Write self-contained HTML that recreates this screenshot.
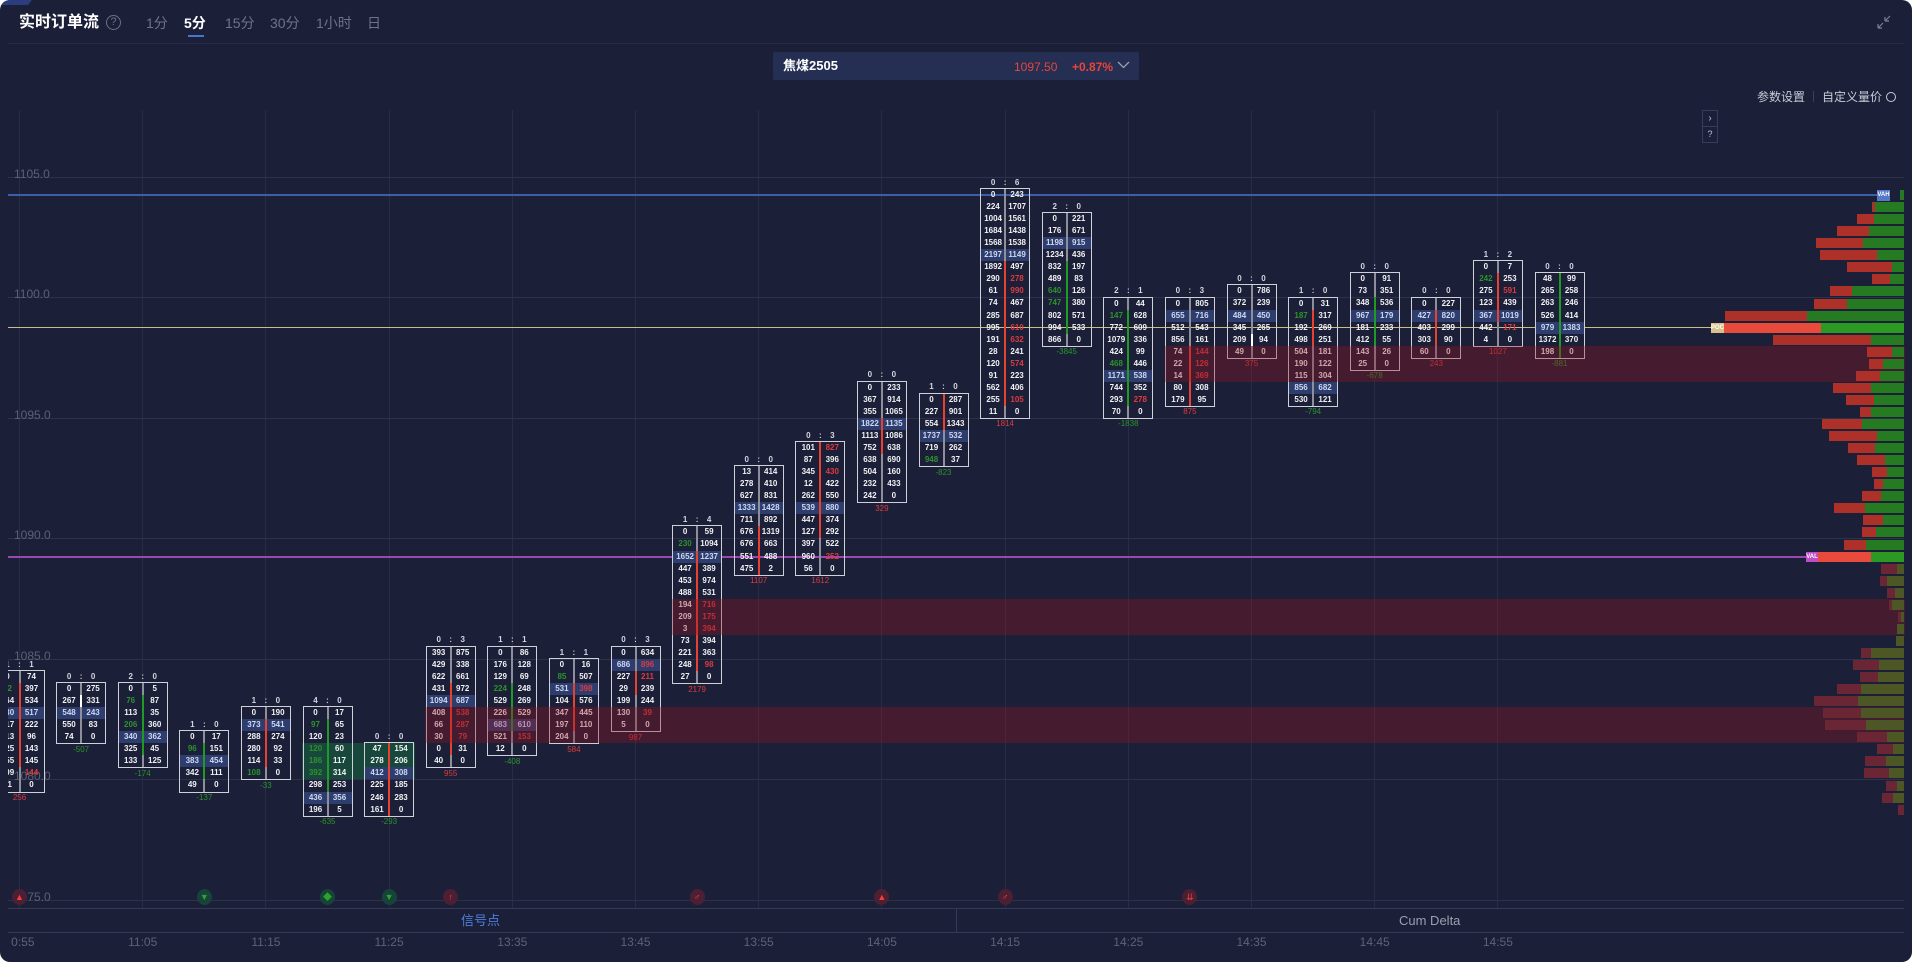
<!DOCTYPE html>
<html><head><meta charset="utf-8">
<style>
*{margin:0;padding:0;box-sizing:border-box}
html,body{width:1912px;height:962px;background:#fff;overflow:hidden}
#pn{position:absolute;left:0;top:0;width:1912px;height:962px;background:#1b1f38;border-radius:10px;overflow:hidden;font-family:"Liberation Sans","Noto Sans CJK SC",sans-serif}
.a{position:absolute}
#cl{position:absolute;left:0;top:0;width:1912px;height:962px;clip-path:inset(108px 0 54px 8px)}
.vg{position:absolute;top:110px;height:798px;width:1px;background:#282d46}
.hg{position:absolute;left:8px;width:1896px;height:1px;background:#2d324b}
.pl{position:absolute;left:14px;font-size:12px;color:#5b6175;line-height:12px}
.bx{position:absolute;width:48px;outline:1.5px solid #cfd0d8;color:#f2f2f4;font-weight:bold;font-size:8px}
.r{position:relative;height:12.05px;display:flex}
.r p,.hd p{width:50%;text-align:center;line-height:12px}
.r::after{content:"";position:absolute;left:23px;top:0;width:2px;height:100%;background:#8e8f9a}
.d::after{background:#e8412f}
.g::after{background:#1f9a24}
.w::after{background:#fff}
.h{background:#2d3d6d;color:#cfd8f2}
.R{color:#dd3b3f}
.G{color:#2c932c}
.hd{position:absolute;top:-12.5px;left:0;width:48px;height:12px;display:flex;color:#d6d6de}
.hd::after{content:":";position:absolute;left:22px;width:4px;text-align:center;line-height:12px}
.dl{position:absolute;left:0;width:48px;bottom:-12.5px;text-align:center;line-height:12px;font-weight:normal}
.band{position:absolute;background:rgba(150,20,35,0.35)}
.pb{position:absolute;height:10px}
.pr{background:#ad3129}.pg{background:#267a22}
.br{background:#e84a3c}.bgg{background:#2c9a22}
.mr{background:#6a2634}.mg{background:#4d5726}
.tl{position:absolute;top:936px;font-size:12px;color:#5d6377;width:60px;margin-left:-30px;text-align:center;line-height:12px}
.ic{position:absolute;top:889px;width:15px;height:16px;border-radius:50%;margin-left:-7.5px;font-size:9px;line-height:16px;text-align:center}
.icr{background:#4c1f33;color:#f0403a}
.icg{background:#17433a;color:#2aa52a}
.tab{position:absolute;top:14px;font-size:14px;color:#6d7488;line-height:18px}
</style></head><body>
<div id="pn">
<svg class="a" style="left:0;top:0" width="34" height="6"><polygon points="0,0 32,0 28,5 0,5" fill="#2b3d7d"/></svg>
<div class="a" style="left:19px;top:13px;font-size:16px;font-weight:bold;color:#fff;line-height:20px">实时订单流</div>
<div class="a" style="left:106px;top:15px;width:15px;height:15px;border:1px solid #6b7185;border-radius:50%;color:#6b7185;font-size:11px;line-height:13px;text-align:center">?</div>
<div class="tab" style="left:146px">1分</div>
<div class="tab" style="left:184px;color:#fff;font-weight:bold">5分</div>
<div class="a" style="left:188px;top:35px;width:16px;height:2px;background:#4a74d4"></div>
<div class="tab" style="left:225px">15分</div>
<div class="tab" style="left:270px">30分</div>
<div class="tab" style="left:316px">1小时</div>
<div class="tab" style="left:367px">日</div>
<svg class="a" style="left:1876px;top:14px" width="16" height="16"><path d="M2 14 L7 9 M2 14 L2 10 M2 14 L6 14 M14 2 L9 7 M9 7 L9 3 M9 7 L13 7" stroke="#7a8094" stroke-width="1.2" fill="none"/></svg>
<div class="a" style="left:8px;top:43px;width:1896px;height:1px;background:#262b44"></div>
<div class="a" style="left:773px;top:52px;width:366px;height:28px;background:#252e53;border-radius:2px"></div>
<div class="a" style="left:783px;top:57px;font-size:13px;font-weight:bold;color:#fff;line-height:18px">焦煤2505</div>
<div class="a" style="left:1014px;top:58px;font-size:12px;color:#e8453c;line-height:18px">1097.50</div>
<div class="a" style="left:1072px;top:58px;font-size:12px;font-weight:bold;color:#e8453c;line-height:18px">+0.87%</div>
<svg class="a" style="left:1117px;top:60px" width="13" height="10"><path d="M1 2 L6.5 7.5 L12 2" stroke="#9aa0b4" stroke-width="1.3" fill="none"/></svg>
<div class="a" style="left:1757px;top:89px;font-size:12px;color:#c8ccd8;line-height:16px">参数设置</div>
<div class="a" style="left:1813px;top:91px;width:1px;height:11px;background:#3a4058"></div>
<div class="a" style="left:1822px;top:89px;font-size:12px;color:#c8ccd8;line-height:16px">自定义量价</div>
<div class="a" style="left:1886px;top:92px;width:10px;height:10px;border:1.2px solid #c8ccd8;border-radius:50%"></div>
<div class="a" style="left:1702px;top:110px;width:16px;height:17px;border:1px solid #363c5a;color:#c0c4d0;font-size:10px;line-height:15px;text-align:center">›</div>
<div class="a" style="left:1702px;top:126px;width:16px;height:17px;border:1px solid #363c5a;color:#c0c4d0;font-size:9px;line-height:15px;text-align:center">?</div>

<div id="cl">
<div class="vg" style="left:19px"></div><div class="vg" style="left:142px"></div><div class="vg" style="left:265px"></div><div class="vg" style="left:389px"></div><div class="vg" style="left:512px"></div><div class="vg" style="left:635px"></div><div class="vg" style="left:758px"></div><div class="vg" style="left:881px"></div><div class="vg" style="left:1005px"></div><div class="vg" style="left:1128px"></div><div class="vg" style="left:1251px"></div><div class="vg" style="left:1374px"></div><div class="vg" style="left:1497px"></div>
<div class="hg" style="top:177px"></div><div class="hg" style="top:297px"></div><div class="hg" style="top:418px"></div><div class="hg" style="top:538px"></div><div class="hg" style="top:659px"></div><div class="hg" style="top:779px"></div><div class="hg" style="top:900px"></div>
<div class="pl" style="top:168px">1105.0</div><div class="pl" style="top:288px">1100.0</div><div class="pl" style="top:409px">1095.0</div><div class="pl" style="top:529px">1090.0</div><div class="pl" style="top:650px">1085.0</div><div class="pl" style="top:770px">1080.0</div><div class="pl" style="top:891px">1075.0</div>

<div class="a" style="left:8px;top:194px;width:1869px;height:2px;background:#3d5ea8"></div>
<div class="a" style="left:8px;top:327px;width:1703px;height:1px;background:#cbbd8a"></div>
<div class="a" style="left:8px;top:556px;width:1798px;height:2px;background:#9a48b0"></div>

<div class="a" style="left:302px;top:743.35px;width:112.6px;height:36.15px;background:rgba(20,150,70,0.35)"></div>

<div class="bx" style="left:-4.5px;top:671.05px"><div class="hd"><p>1</p><p>1</p></div>
<div class="r y"><p>0</p><p>74</p></div><div class="r d"><p class="G">82</p><p>397</p></div><div class="r d"><p>264</p><p>534</p></div><div class="r d h"><p>630</p><p>517</p></div><div class="r d"><p>317</p><p>222</p></div><div class="r d"><p>213</p><p>96</p></div><div class="r d"><p>225</p><p>143</p></div><div class="r d"><p>355</p><p>145</p></div><div class="r y"><p>199</p><p class="R">144</p></div><div class="r y"><p>31</p><p>0</p></div>
<div class="dl R">256</div></div>

<div class="bx" style="left:57.1px;top:683.1px"><div class="hd"><p>0</p><p>0</p></div>
<div class="r y"><p>0</p><p>275</p></div><div class="r w"><p>267</p><p>331</p></div><div class="r y h"><p>548</p><p>243</p></div><div class="r y"><p>550</p><p>83</p></div><div class="r y"><p>74</p><p>0</p></div>
<div class="dl G">-507</div></div>

<div class="bx" style="left:118.7px;top:683.1px"><div class="hd"><p>2</p><p>0</p></div>
<div class="r y"><p>0</p><p>5</p></div><div class="r g"><p class="G">76</p><p>87</p></div><div class="r g"><p>113</p><p>35</p></div><div class="r g"><p class="G">206</p><p>360</p></div><div class="r g h"><p>340</p><p>362</p></div><div class="r g"><p>325</p><p>45</p></div><div class="r y"><p>133</p><p>125</p></div>
<div class="dl G">-174</div></div>

<div class="bx" style="left:180.3px;top:731.3px"><div class="hd"><p>1</p><p>0</p></div>
<div class="r y"><p>0</p><p>17</p></div><div class="r g"><p class="G">96</p><p>151</p></div><div class="r g h"><p>383</p><p>454</p></div><div class="r g"><p>342</p><p>111</p></div><div class="r y"><p>49</p><p>0</p></div>
<div class="dl G">-137</div></div>

<div class="bx" style="left:241.9px;top:707.2px"><div class="hd"><p>1</p><p>0</p></div>
<div class="r y"><p>0</p><p>190</p></div><div class="r d h"><p>373</p><p>541</p></div><div class="r d"><p>288</p><p>274</p></div><div class="r d"><p>280</p><p>92</p></div><div class="r d"><p>114</p><p>33</p></div><div class="r y"><p class="G">108</p><p>0</p></div>
<div class="dl G">-33</div></div>

<div class="bx" style="left:303.5px;top:707.2px"><div class="hd"><p>4</p><p>0</p></div>
<div class="r y"><p>0</p><p>17</p></div><div class="r g"><p class="G">97</p><p>65</p></div><div class="r g"><p>120</p><p>23</p></div><div class="r g"><p class="G">120</p><p>60</p></div><div class="r g"><p class="G">186</p><p>117</p></div><div class="r g"><p class="G">392</p><p>314</p></div><div class="r g"><p>298</p><p>253</p></div><div class="r y h"><p>436</p><p>356</p></div><div class="r y"><p>196</p><p>5</p></div>
<div class="dl G">-635</div></div>

<div class="bx" style="left:365.1px;top:743.35px"><div class="hd"><p>0</p><p>0</p></div>
<div class="r d"><p>47</p><p>154</p></div><div class="r d"><p>278</p><p>206</p></div><div class="r d h"><p>412</p><p>308</p></div><div class="r d"><p>225</p><p>185</p></div><div class="r d"><p>246</p><p>283</p></div><div class="r d"><p>161</p><p>0</p></div>
<div class="dl G">-293</div></div>

<div class="bx" style="left:426.7px;top:646.95px"><div class="hd"><p>0</p><p>3</p></div>
<div class="r y"><p>393</p><p>875</p></div><div class="r y"><p>429</p><p>338</p></div><div class="r y"><p>622</p><p>661</p></div><div class="r d"><p>431</p><p>972</p></div><div class="r d h"><p>1094</p><p>687</p></div><div class="r d"><p>408</p><p class="R">538</p></div><div class="r d"><p>66</p><p class="R">287</p></div><div class="r d"><p>30</p><p class="R">79</p></div><div class="r d"><p>0</p><p>31</p></div><div class="r y"><p>40</p><p>0</p></div>
<div class="dl R">955</div></div>

<div class="bx" style="left:488.3px;top:646.95px"><div class="hd"><p>1</p><p>1</p></div>
<div class="r y"><p>0</p><p>86</p></div><div class="r y"><p>176</p><p>128</p></div><div class="r y"><p>129</p><p>69</p></div><div class="r g"><p class="G">224</p><p>248</p></div><div class="r g"><p>529</p><p>269</p></div><div class="r g"><p>226</p><p>529</p></div><div class="r g h"><p>683</p><p>610</p></div><div class="r y"><p>521</p><p class="R">153</p></div><div class="r y"><p>12</p><p>0</p></div>
<div class="dl G">-408</div></div>

<div class="bx" style="left:549.9px;top:659px"><div class="hd"><p>1</p><p>1</p></div>
<div class="r y"><p>0</p><p>16</p></div><div class="r y"><p class="G">85</p><p>507</p></div><div class="r d h"><p>531</p><p class="R">398</p></div><div class="r d"><p>104</p><p>576</p></div><div class="r d"><p>347</p><p>445</p></div><div class="r d"><p>197</p><p>110</p></div><div class="r y"><p>204</p><p>0</p></div>
<div class="dl R">584</div></div>

<div class="bx" style="left:611.5px;top:646.95px"><div class="hd"><p>0</p><p>3</p></div>
<div class="r y"><p>0</p><p>634</p></div><div class="r y h"><p>686</p><p class="R">896</p></div><div class="r d"><p>227</p><p class="R">211</p></div><div class="r d"><p>29</p><p>239</p></div><div class="r y"><p>199</p><p>244</p></div><div class="r y"><p>130</p><p class="R">39</p></div><div class="r y"><p>5</p><p>0</p></div>
<div class="dl R">987</div></div>

<div class="bx" style="left:673.1px;top:526.45px"><div class="hd"><p>1</p><p>4</p></div>
<div class="r y"><p>0</p><p>59</p></div><div class="r y"><p class="G">230</p><p>1094</p></div><div class="r d h"><p>1652</p><p>1237</p></div><div class="r d"><p>447</p><p>389</p></div><div class="r d"><p>453</p><p>974</p></div><div class="r d"><p>488</p><p>531</p></div><div class="r d"><p>194</p><p class="R">716</p></div><div class="r d"><p>209</p><p class="R">175</p></div><div class="r d"><p>3</p><p class="R">394</p></div><div class="r d"><p>73</p><p>394</p></div><div class="r d"><p>221</p><p>363</p></div><div class="r d"><p>248</p><p class="R">98</p></div><div class="r y"><p>27</p><p>0</p></div>
<div class="dl R">2179</div></div>

<div class="bx" style="left:734.7px;top:466.2px"><div class="hd"><p>0</p><p>0</p></div>
<div class="r y"><p>13</p><p>414</p></div><div class="r y"><p>278</p><p>410</p></div><div class="r y"><p>627</p><p>831</p></div><div class="r y h"><p>1333</p><p>1428</p></div><div class="r y"><p>711</p><p>892</p></div><div class="r d"><p>676</p><p>1319</p></div><div class="r d"><p>676</p><p>663</p></div><div class="r d"><p>551</p><p>488</p></div><div class="r d"><p>475</p><p>2</p></div>
<div class="dl R">1107</div></div>

<div class="bx" style="left:796.3px;top:442.1px"><div class="hd"><p>0</p><p>3</p></div>
<div class="r d"><p>101</p><p class="R">827</p></div><div class="r d"><p>87</p><p>396</p></div><div class="r d"><p>345</p><p class="R">430</p></div><div class="r d"><p>12</p><p>422</p></div><div class="r d"><p>262</p><p>550</p></div><div class="r d h"><p>539</p><p>880</p></div><div class="r d"><p>447</p><p>374</p></div><div class="r d"><p>127</p><p>292</p></div><div class="r y"><p>397</p><p>522</p></div><div class="r y"><p>960</p><p class="R">252</p></div><div class="r y"><p>56</p><p>0</p></div>
<div class="dl R">1612</div></div>

<div class="bx" style="left:857.9px;top:381.85px"><div class="hd"><p>0</p><p>0</p></div>
<div class="r y"><p>0</p><p>233</p></div><div class="r y"><p>367</p><p>914</p></div><div class="r y"><p>355</p><p>1065</p></div><div class="r d h"><p>1822</p><p>1135</p></div><div class="r d"><p>1113</p><p>1086</p></div><div class="r d"><p>752</p><p>638</p></div><div class="r y"><p>638</p><p>690</p></div><div class="r y"><p>504</p><p>160</p></div><div class="r y"><p>232</p><p>433</p></div><div class="r y"><p>242</p><p>0</p></div>
<div class="dl R">329</div></div>

<div class="bx" style="left:919.5px;top:393.9px"><div class="hd"><p>1</p><p>0</p></div>
<div class="r d"><p>0</p><p>287</p></div><div class="r d"><p>227</p><p>901</p></div><div class="r d"><p>554</p><p>1343</p></div><div class="r y h"><p>1737</p><p>532</p></div><div class="r y"><p>719</p><p>262</p></div><div class="r y"><p class="G">948</p><p>37</p></div>
<div class="dl G">-823</div></div>

<div class="bx" style="left:981.1px;top:189.05px"><div class="hd"><p>0</p><p>6</p></div>
<div class="r y"><p>0</p><p>243</p></div><div class="r y"><p>224</p><p>1707</p></div><div class="r y"><p>1004</p><p>1561</p></div><div class="r y"><p>1684</p><p>1438</p></div><div class="r y"><p>1568</p><p>1538</p></div><div class="r y h"><p>2197</p><p>1149</p></div><div class="r d"><p>1892</p><p>497</p></div><div class="r d"><p>290</p><p class="R">278</p></div><div class="r d"><p>61</p><p class="R">990</p></div><div class="r d"><p>74</p><p>467</p></div><div class="r d"><p>285</p><p>687</p></div><div class="r d"><p>995</p><p class="R">610</p></div><div class="r d"><p>191</p><p class="R">632</p></div><div class="r d"><p>28</p><p>241</p></div><div class="r d"><p>120</p><p class="R">574</p></div><div class="r d"><p>91</p><p>223</p></div><div class="r d"><p>562</p><p>406</p></div><div class="r d"><p>255</p><p class="R">105</p></div><div class="r y"><p>11</p><p>0</p></div>
<div class="dl R">1814</div></div>

<div class="bx" style="left:1042.7px;top:213.15px"><div class="hd"><p>2</p><p>0</p></div>
<div class="r y"><p>0</p><p>221</p></div><div class="r y"><p>176</p><p>671</p></div><div class="r y h"><p>1198</p><p>915</p></div><div class="r y"><p>1234</p><p>436</p></div><div class="r g"><p>832</p><p>197</p></div><div class="r g"><p>489</p><p>83</p></div><div class="r g"><p class="G">640</p><p>126</p></div><div class="r g"><p class="G">747</p><p>380</p></div><div class="r g"><p>802</p><p>571</p></div><div class="r g"><p>994</p><p>533</p></div><div class="r y"><p>866</p><p>0</p></div>
<div class="dl G">-3845</div></div>

<div class="bx" style="left:1104.3px;top:297.5px"><div class="hd"><p>2</p><p>1</p></div>
<div class="r y"><p>0</p><p>44</p></div><div class="r g"><p class="G">147</p><p>628</p></div><div class="r g"><p>772</p><p>609</p></div><div class="r g"><p>1079</p><p>336</p></div><div class="r g"><p>424</p><p>99</p></div><div class="r g"><p class="G">468</p><p>446</p></div><div class="r g h"><p>1171</p><p>538</p></div><div class="r g"><p>744</p><p>352</p></div><div class="r g"><p>293</p><p class="R">278</p></div><div class="r y"><p>70</p><p>0</p></div>
<div class="dl G">-1838</div></div>

<div class="bx" style="left:1165.9px;top:297.5px"><div class="hd"><p>0</p><p>3</p></div>
<div class="r y"><p>0</p><p>805</p></div><div class="r y h"><p>655</p><p>716</p></div><div class="r y"><p>512</p><p>543</p></div><div class="r y"><p>856</p><p>161</p></div><div class="r d"><p>74</p><p class="R">144</p></div><div class="r d"><p>22</p><p class="R">126</p></div><div class="r d"><p>14</p><p class="R">369</p></div><div class="r d"><p>80</p><p>308</p></div><div class="r d"><p>179</p><p>95</p></div>
<div class="dl R">875</div></div>

<div class="bx" style="left:1227.5px;top:285.45px"><div class="hd"><p>0</p><p>0</p></div>
<div class="r y"><p>0</p><p>786</p></div><div class="r y"><p>372</p><p>239</p></div><div class="r y h"><p>484</p><p>450</p></div><div class="r y"><p>345</p><p>265</p></div><div class="r w"><p>209</p><p>94</p></div><div class="r y"><p>49</p><p>0</p></div>
<div class="dl R">375</div></div>

<div class="bx" style="left:1289.1px;top:297.5px"><div class="hd"><p>1</p><p>0</p></div>
<div class="r y"><p>0</p><p>31</p></div><div class="r d"><p class="G">187</p><p>317</p></div><div class="r d"><p>192</p><p>269</p></div><div class="r d"><p>498</p><p>251</p></div><div class="r y"><p>504</p><p>181</p></div><div class="r y"><p>190</p><p>122</p></div><div class="r y"><p>115</p><p>304</p></div><div class="r y h"><p>856</p><p>682</p></div><div class="r y"><p>530</p><p>121</p></div>
<div class="dl G">-794</div></div>

<div class="bx" style="left:1350.7px;top:273.4px"><div class="hd"><p>0</p><p>0</p></div>
<div class="r y"><p>0</p><p>91</p></div><div class="r y"><p>73</p><p>351</p></div><div class="r g"><p>348</p><p>536</p></div><div class="r g h"><p>967</p><p>179</p></div><div class="r g"><p>181</p><p>233</p></div><div class="r g"><p>412</p><p>55</p></div><div class="r y"><p>143</p><p>26</p></div><div class="r y"><p>25</p><p>0</p></div>
<div class="dl G">-678</div></div>

<div class="bx" style="left:1412.3px;top:297.5px"><div class="hd"><p>0</p><p>0</p></div>
<div class="r y"><p>0</p><p>227</p></div><div class="r d h"><p>427</p><p>820</p></div><div class="r d"><p>403</p><p>299</p></div><div class="r d"><p>303</p><p>90</p></div><div class="r y"><p>60</p><p>0</p></div>
<div class="dl R">243</div></div>

<div class="bx" style="left:1473.9px;top:261.35px"><div class="hd"><p>1</p><p>2</p></div>
<div class="r y"><p>0</p><p>7</p></div><div class="r d"><p class="G">242</p><p>253</p></div><div class="r d"><p>275</p><p class="R">591</p></div><div class="r d"><p>123</p><p>439</p></div><div class="r d h"><p>367</p><p>1019</p></div><div class="r y"><p>442</p><p class="R">171</p></div><div class="r y"><p>4</p><p>0</p></div>
<div class="dl R">1027</div></div>

<div class="bx" style="left:1535.5px;top:273.4px"><div class="hd"><p>0</p><p>0</p></div>
<div class="r g"><p>48</p><p>99</p></div><div class="r g"><p>265</p><p>258</p></div><div class="r g"><p>263</p><p>246</p></div><div class="r g"><p>526</p><p>414</p></div><div class="r g h"><p>979</p><p>1383</p></div><div class="r g"><p>1372</p><p>370</p></div><div class="r g"><p>198</p><p>0</p></div>
<div class="dl G">-881</div></div>

<div class="band" style="left:1164.5px;top:345.7px;width:740px;height:36.15px"></div>
<div class="band" style="left:671.6px;top:598.75px;width:1233px;height:36.15px"></div>
<div class="band" style="left:425.2px;top:707.2px;width:1479px;height:36.15px"></div>

<div class="pb pg" style="top:190.05px;left:1900px;width:4px"></div>
<div class="pb pr" style="top:202.1px;left:1872px;width:3px"></div><div class="pb pg" style="top:202.1px;left:1875px;width:29px"></div>
<div class="pb pr" style="top:214.15px;left:1857px;width:17px"></div><div class="pb pg" style="top:214.15px;left:1874px;width:30px"></div>
<div class="pb pr" style="top:226.2px;left:1837px;width:32px"></div><div class="pb pg" style="top:226.2px;left:1869px;width:35px"></div>
<div class="pb pr" style="top:238.25px;left:1816px;width:47px"></div><div class="pb pg" style="top:238.25px;left:1863px;width:41px"></div>
<div class="pb pr" style="top:250.3px;left:1820px;width:57px"></div><div class="pb pg" style="top:250.3px;left:1877px;width:27px"></div>
<div class="pb pr" style="top:262.35px;left:1847px;width:45px"></div><div class="pb pg" style="top:262.35px;left:1892px;width:12px"></div>
<div class="pb pr" style="top:274.4px;left:1872px;width:18px"></div><div class="pb pg" style="top:274.4px;left:1890px;width:14px"></div>
<div class="pb pr" style="top:286.45px;left:1830px;width:22px"></div><div class="pb pg" style="top:286.45px;left:1852px;width:52px"></div>
<div class="pb pr" style="top:298.5px;left:1814px;width:33px"></div><div class="pb pg" style="top:298.5px;left:1847px;width:57px"></div>
<div class="pb pr" style="top:310.55px;left:1725px;width:82px"></div><div class="pb pg" style="top:310.55px;left:1807px;width:97px"></div>
<div class="pb br" style="top:322.6px;left:1724px;width:97px"></div><div class="pb bgg" style="top:322.6px;left:1821px;width:83px"></div>
<div class="pb pr" style="top:334.65px;left:1773px;width:98px"></div><div class="pb pg" style="top:334.65px;left:1871px;width:33px"></div>
<div class="pb pr" style="top:346.7px;left:1867px;width:25px"></div><div class="pb pg" style="top:346.7px;left:1892px;width:12px"></div>
<div class="pb pr" style="top:358.75px;left:1869px;width:14px"></div><div class="pb pg" style="top:358.75px;left:1883px;width:21px"></div>
<div class="pb pr" style="top:370.8px;left:1856px;width:24px"></div><div class="pb pg" style="top:370.8px;left:1880px;width:24px"></div>
<div class="pb pr" style="top:382.85px;left:1833px;width:38px"></div><div class="pb pg" style="top:382.85px;left:1871px;width:33px"></div>
<div class="pb pr" style="top:394.9px;left:1846px;width:28px"></div><div class="pb pg" style="top:394.9px;left:1874px;width:30px"></div>
<div class="pb pr" style="top:406.95px;left:1860px;width:11px"></div><div class="pb pg" style="top:406.95px;left:1871px;width:33px"></div>
<div class="pb pr" style="top:419px;left:1822px;width:40px"></div><div class="pb pg" style="top:419px;left:1862px;width:42px"></div>
<div class="pb pr" style="top:431.05px;left:1829px;width:48px"></div><div class="pb pg" style="top:431.05px;left:1877px;width:27px"></div>
<div class="pb pr" style="top:443.1px;left:1848px;width:27px"></div><div class="pb pg" style="top:443.1px;left:1875px;width:29px"></div>
<div class="pb pr" style="top:455.15px;left:1857px;width:28px"></div><div class="pb pg" style="top:455.15px;left:1885px;width:19px"></div>
<div class="pb pr" style="top:467.2px;left:1872px;width:15px"></div><div class="pb pg" style="top:467.2px;left:1887px;width:17px"></div>
<div class="pb pr" style="top:479.25px;left:1874px;width:9px"></div><div class="pb pg" style="top:479.25px;left:1883px;width:21px"></div>
<div class="pb pr" style="top:491.3px;left:1862px;width:19px"></div><div class="pb pg" style="top:491.3px;left:1881px;width:23px"></div>
<div class="pb pr" style="top:503.35px;left:1834px;width:31px"></div><div class="pb pg" style="top:503.35px;left:1865px;width:39px"></div>
<div class="pb pr" style="top:515.4px;left:1863px;width:20px"></div><div class="pb pg" style="top:515.4px;left:1883px;width:21px"></div>
<div class="pb pr" style="top:527.45px;left:1862px;width:14px"></div><div class="pb pg" style="top:527.45px;left:1876px;width:28px"></div>
<div class="pb pr" style="top:539.5px;left:1844px;width:22px"></div><div class="pb pg" style="top:539.5px;left:1866px;width:38px"></div>
<div class="pb br" style="top:551.55px;left:1817px;width:54px"></div><div class="pb bgg" style="top:551.55px;left:1871px;width:33px"></div>
<div class="pb mr" style="top:563.6px;left:1881px;width:16px"></div><div class="pb mg" style="top:563.6px;left:1897px;width:7px"></div>
<div class="pb mr" style="top:575.65px;left:1880px;width:7px"></div><div class="pb mg" style="top:575.65px;left:1887px;width:17px"></div>
<div class="pb mr" style="top:587.7px;left:1887px;width:8px"></div><div class="pb mg" style="top:587.7px;left:1895px;width:9px"></div>
<div class="pb mr" style="top:599.75px;left:1889px;width:3px"></div><div class="pb mg" style="top:599.75px;left:1892px;width:12px"></div>
<div class="pb mr" style="top:611.8px;left:1898px;width:3px"></div><div class="pb mg" style="top:611.8px;left:1901px;width:3px"></div>
<div class="pb mg" style="top:623.85px;left:1897px;width:7px"></div>
<div class="pb mg" style="top:635.9px;left:1896px;width:8px"></div>
<div class="pb mr" style="top:647.95px;left:1861px;width:10px"></div><div class="pb mg" style="top:647.95px;left:1871px;width:33px"></div>
<div class="pb mr" style="top:660px;left:1853px;width:26px"></div><div class="pb mg" style="top:660px;left:1879px;width:25px"></div>
<div class="pb mr" style="top:672.05px;left:1860px;width:18px"></div><div class="pb mg" style="top:672.05px;left:1878px;width:26px"></div>
<div class="pb mr" style="top:684.1px;left:1837px;width:24px"></div><div class="pb mg" style="top:684.1px;left:1861px;width:43px"></div>
<div class="pb mr" style="top:696.15px;left:1814px;width:44px"></div><div class="pb mg" style="top:696.15px;left:1858px;width:46px"></div>
<div class="pb mr" style="top:708.2px;left:1823px;width:38px"></div><div class="pb mg" style="top:708.2px;left:1861px;width:43px"></div>
<div class="pb mr" style="top:720.25px;left:1825px;width:41px"></div><div class="pb mg" style="top:720.25px;left:1866px;width:38px"></div>
<div class="pb mr" style="top:732.3px;left:1857px;width:30px"></div><div class="pb mg" style="top:732.3px;left:1887px;width:17px"></div>
<div class="pb mr" style="top:744.35px;left:1877px;width:16px"></div><div class="pb mg" style="top:744.35px;left:1893px;width:11px"></div>
<div class="pb mr" style="top:756.4px;left:1865px;width:21px"></div><div class="pb mg" style="top:756.4px;left:1886px;width:18px"></div>
<div class="pb mr" style="top:768.45px;left:1864px;width:25px"></div><div class="pb mg" style="top:768.45px;left:1889px;width:15px"></div>
<div class="pb mr" style="top:780.5px;left:1886px;width:11px"></div><div class="pb mg" style="top:780.5px;left:1897px;width:7px"></div>
<div class="pb mr" style="top:792.55px;left:1882px;width:11px"></div><div class="pb mg" style="top:792.55px;left:1893px;width:11px"></div>
<div class="pb mr" style="top:804.6px;left:1898px;width:6px"></div>

<div class="a" style="left:1877px;top:190px;width:13px;height:11px;background:#5578c8;color:#fff;font-size:6px;font-weight:bold;line-height:11px;text-align:center">VAH</div>
<div class="a" style="left:1711px;top:323px;width:13px;height:10px;background:#d9c28a;color:#fff;font-size:6px;font-weight:bold;line-height:10px;text-align:center">POC</div>
<div class="a" style="left:1806px;top:552px;width:12px;height:10px;background:#c04cc8;color:#fff;font-size:6px;font-weight:bold;line-height:10px;text-align:center">VAL</div>

<div class="ic icr" style="left:19.5px">▲</div>
<div class="ic icg" style="left:204.3px">▼</div>
<div class="ic icg" style="left:327.5px">◆</div>
<div class="ic icg" style="left:389.1px">▼</div>
<div class="ic icr" style="left:450.7px">↑</div>
<div class="ic icr" style="left:697.1px">♂</div>
<div class="ic icr" style="left:881.9px">▲</div>
<div class="ic icr" style="left:1005.1px">♂</div>
<div class="ic icr" style="left:1189.9px">⇊</div>
</div>

<div class="a" style="left:8px;top:908px;width:1896px;height:1px;background:#343a55"></div>
<div class="a" style="left:8px;top:932px;width:1896px;height:1px;background:#343a55"></div>
<div class="a" style="left:956px;top:908px;width:1px;height:24px;background:#343a55"></div>
<div class="a" style="left:461px;top:912px;font-size:13px;color:#4d7ee0;line-height:17px">信号点</div>
<div class="a" style="left:1399px;top:912px;font-size:13px;color:#9aa0b0;line-height:17px">Cum Delta</div>
<div class="a" style="left:0;top:930px;width:1912px;height:20px;clip-path:inset(0 0 0 11px)">
<div class="tl" style="left:19.5px;top:6px">10:55</div>
<div class="tl" style="left:142.7px;top:6px">11:05</div>
<div class="tl" style="left:265.9px;top:6px">11:15</div>
<div class="tl" style="left:389.1px;top:6px">11:25</div>
<div class="tl" style="left:512.3px;top:6px">13:35</div>
<div class="tl" style="left:635.5px;top:6px">13:45</div>
<div class="tl" style="left:758.7px;top:6px">13:55</div>
<div class="tl" style="left:881.9px;top:6px">14:05</div>
<div class="tl" style="left:1005.1px;top:6px">14:15</div>
<div class="tl" style="left:1128.3px;top:6px">14:25</div>
<div class="tl" style="left:1251.5px;top:6px">14:35</div>
<div class="tl" style="left:1374.7px;top:6px">14:45</div>
<div class="tl" style="left:1497.9px;top:6px">14:55</div>
</div>
</div>
</body></html>
